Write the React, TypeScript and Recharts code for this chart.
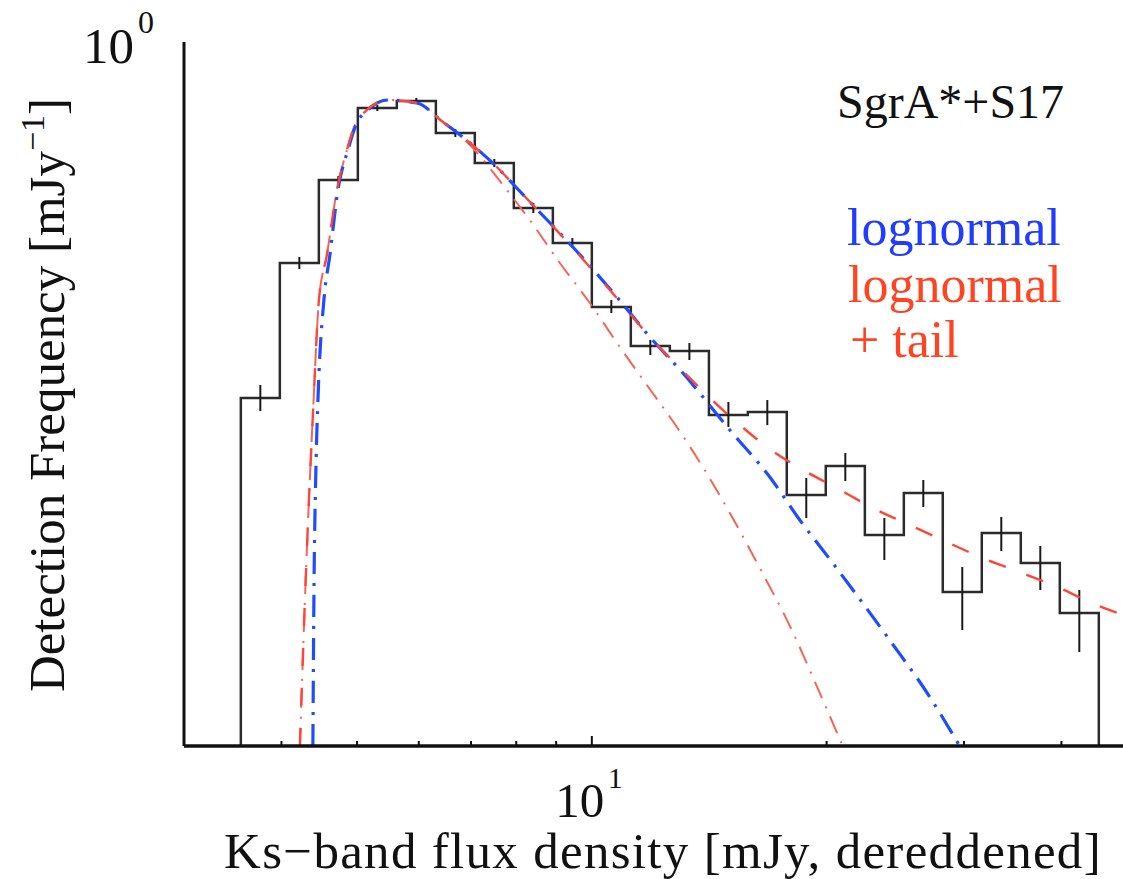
import React from "react";
import { ComposedChart, Line, XAxis, YAxis, ErrorBar } from "recharts";

const FONT = "'Liberation Serif', 'Times New Roman', serif";
const Y_MIN = 1e-4;

// 0.05 dex flux bins [mJy] and detection frequency per bin
const binEdges = [
  3.548, 3.981, 4.467, 5.012, 5.623, 6.31, 7.079, 7.943, 8.913, 10.0, 11.22, 12.59,
  14.13, 15.85, 17.78, 19.95, 22.39, 25.12, 28.18, 31.62, 35.48, 39.81, 44.67,
];
const freq = [
  0.00949, 0.0555, 0.1643, 0.4217, 0.4622, 0.3041, 0.2054, 0.114, 0.0721, 0.0312, 0.01874,
  0.01755, 0.0076, 0.0079, 0.002668, 0.003899, 0.001581, 0.002738, 0.00075, 0.001623,
  0.001096, 0.00057,
];
const freqLow = [
  0.008, 0.05128, 0.1559, 0.4055, 0.4444, 0.2885, 0.1949, 0.1067, 0.0675, 0.02884, 0.01666,
  0.0156, 0.0065, 0.00666, 0.001975, 0.003204, 0.00114, 0.00228, 0.000456, 0.001282,
  0.00077, 0.000342,
];
const freqHigh = [
  0.01126, 0.06004, 0.1732, 0.4386, 0.4807, 0.3205, 0.2165, 0.1218, 0.077, 0.03421, 0.02028,
  0.01948, 0.00901, 0.00924, 0.003332, 0.004624, 0.001975, 0.003247, 0.00104, 0.002001,
  0.001369, 0.00077,
];

// lognormal fit
const lognormX = [
  4.389, 4.402, 4.428, 4.455, 4.534, 4.615, 4.726, 4.867, 4.984, 5.164, 5.478, 5.967, 6.443,
  6.979, 7.553, 8.013, 8.4, 9.455, 10.766, 11.868, 13.083, 15.028, 16.91, 18.476, 20.363,
  24.09, 27.12, 29.62,
];
const lognormY = [
  1e-4, 6.75e-4, 0.0037, 0.00924, 0.0342, 0.0616, 0.1442, 0.2434, 0.3376, 0.4109, 0.4683,
  0.45, 0.3511, 0.2668, 0.1949, 0.1481, 0.1186, 0.0684, 0.0356, 0.02108, 0.01316, 0.00624,
  0.003377, 0.001924, 0.001096, 0.0004, 0.00019, 1e-4,
];

// lognormal + power-law tail fit
const tailX = [
  4.224, 4.287, 4.338, 4.389, 4.468, 4.574, 4.712, 4.853, 4.969, 5.149, 5.462, 5.967, 6.443,
  6.979, 7.553, 8.013, 9.455, 10.766, 11.868, 13.083, 14.167, 15.478, 16.91, 18.862, 20.605,
  22.916, 25.56, 28.51, 31.7, 35.35, 39.79, 44.38, 48.92,
];
const tailY = [
  1e-4, 6.75e-4, 0.002498, 0.0076, 0.0342, 0.0616, 0.1442, 0.2434, 0.3376, 0.4109, 0.4683,
  0.45, 0.3511, 0.2668, 0.1949, 0.1481, 0.0675, 0.0351, 0.02108, 0.01351, 0.00949, 0.00667,
  0.00487, 0.003604, 0.002923, 0.002251, 0.001802, 0.001442, 0.00117, 0.000974, 0.00079,
  0.000632, 0.000541,
];

// lognormal component of the tail fit
const compX = [
  4.224, 4.287, 4.338, 4.389, 4.468, 4.574, 4.712, 4.853, 4.969, 5.149, 5.462, 5.967, 6.443,
  6.979, 7.78, 8.326, 9.099, 9.941, 10.861, 11.763, 12.854, 13.877, 15.028, 16.418, 18.098,
  19.425, 20.973,
];
const compY = [
  1e-4, 6.75e-4, 0.002498, 0.0076, 0.0342, 0.0616, 0.1442, 0.2434, 0.3376, 0.4109, 0.4683,
  0.45, 0.3511, 0.26, 0.1442, 0.0974, 0.0555, 0.0329, 0.01849, 0.01125, 0.00649, 0.003847,
  0.002108, 0.001026, 0.000444, 0.000219, 1e-4,
];

const xTicks = [4, 5, 6, 7, 8, 9, 10, 20, 30, 40];

const nBins = freq.length;
const histStep = [
  { x: binEdges[0], y: Y_MIN },
  ...freq.map((f, i) => ({ x: binEdges[i], y: f })),
  { x: binEdges[nBins], y: freq[nBins - 1] },
  { x: binEdges[nBins], y: Y_MIN },
];
const histErr = freq.map((f, i) => ({
  x: Math.sqrt(binEdges[i] * binEdges[i + 1]),
  y: f,
  err: [f - freqLow[i], freqHigh[i] - f],
}));
const toPts = (xs: number[], ys: number[]) => xs.map((x, i) => ({ x, y: ys[i] }));
const lognormPts = toPts(lognormX, lognormY);
const tailPts = toPts(tailX, tailY);
const compPts = toPts(compX, compY);

const txt = (size: number, fill = "#111"): React.CSSProperties => ({
  fontFamily: FONT,
  fontSize: size,
  fill,
});

const BottomTick = (props: any) => {
  const { x, y, payload } = props;
  const major = payload.value === 10;
  return (
    <g>
      <line x1={x} x2={x} y1={y} y2={y - (major ? 10 : 5)} stroke="#111" strokeWidth={2} />
      {major && (
        <g>
          <text x={x - 12} y={y + 71} textAnchor="middle" style={txt(49)}>10</text>
          <text x={x + 16} y={y + 42} style={txt(30)}>1</text>
        </g>
      )}
    </g>
  );
};

const TopTick = (props: any) => {
  const { x, y, payload } = props;
  const major = payload.value === 10;
  return <line x1={x} x2={x} y1={y} y2={y + (major ? 10 : 5)} stroke="#111" strokeWidth={2} />;
};

const LeftTick = (props: any) => {
  const { x, y } = props;
  return (
    <g>
      <text x={x - 50} y={y + 21} textAnchor="end" style={txt(51)}>10</text>
      <text x={x - 46} y={y - 9} style={txt(32)}>0</text>
    </g>
  );
};

export default function App() {
  return (
    <div
      style={{
        position: "fixed",
        left: 0,
        top: 0,
        width: 1123,
        height: 879,
        overflow: "hidden",
        background: "#fff",
      }}
    >
      <ComposedChart
        width={1147}
        height={879}
        margin={{ top: 42, right: 10, bottom: 0, left: 0 }}
      >
        <XAxis
          xAxisId="b"
          dataKey="x"
          type="number"
          scale="log"
          domain={[3, 50]}
          allowDataOverflow
          ticks={xTicks}
          height={133}
          tickSize={0}
          tickMargin={0}
          tickLine={false}
          tick={<BottomTick />}
          axisLine={{ stroke: "#111", strokeWidth: 3.5 }}
        />
        <XAxis
          xAxisId="t"
          orientation="top"
          dataKey="x"
          type="number"
          scale="log"
          domain={[3, 50]}
          allowDataOverflow
          ticks={xTicks}
          height={0}
          tickSize={0}
          tickMargin={0}
          tickLine={false}
          tick={<TopTick />}
          axisLine={{ stroke: "#111", strokeWidth: 3 }}
        />
        <YAxis
          type="number"
          scale="log"
          domain={[Y_MIN, 1]}
          allowDataOverflow
          ticks={[1]}
          width={184}
          tickSize={0}
          tickMargin={0}
          tickLine={false}
          tick={<LeftTick />}
          axisLine={{ stroke: "#111", strokeWidth: 3 }}
        />

        <Line
          xAxisId="b"
          data={histStep}
          dataKey="y"
          type="stepAfter"
          stroke="#2b2b2b"
          strokeWidth={2.5}
          dot={false}
          activeDot={false}
          isAnimationActive={false}
        />
        <Line
          xAxisId="b"
          data={histErr}
          dataKey="y"
          stroke="none"
          dot={false}
          activeDot={false}
          isAnimationActive={false}
        >
          <ErrorBar dataKey="err" direction="y" width={0} stroke="#1a1a1a" strokeWidth={2} />
        </Line>
        <Line
          xAxisId="b"
          data={compPts}
          dataKey="y"
          type="monotone"
          stroke="#f26655"
          strokeWidth={2}
          strokeDasharray="18 9 2 9"
          dot={false}
          activeDot={false}
          isAnimationActive={false}
        />
        <Line
          xAxisId="b"
          data={lognormPts}
          dataKey="y"
          type="monotone"
          stroke="#1f4cff"
          strokeWidth={3.2}
          strokeDasharray="22 9 3 9"
          dot={false}
          activeDot={false}
          isAnimationActive={false}
        />
        <Line
          xAxisId="b"
          data={tailPts}
          dataKey="y"
          type="monotone"
          stroke="#ff4636"
          strokeWidth={2.4}
          strokeDasharray="18 22"
          dot={false}
          activeDot={false}
          isAnimationActive={false}
        />

        <text x={837} y={118} style={txt(48)}>SgrA*+S17</text>
        <text x={847} y={245} style={txt(52, "#1f3cff")}>lognormal</text>
        <text x={848} y={302} style={txt(52, "#ff4422")}>lognormal</text>
        <text x={850} y={357} style={txt(52, "#ff4422")}>+ tail</text>
        <text x={663} y={868} textAnchor="middle" style={{ ...txt(51), letterSpacing: 1.3 }}>
          Ks−band flux density [mJy, dereddened]
        </text>
        <text transform="translate(64 395) rotate(-90)" textAnchor="middle" style={txt(51)}>
          Detection Frequency [mJy
          <tspan style={{ fontSize: 34 }} dy={-20}>−1</tspan>
          <tspan dy={20}>]</tspan>
        </text>
      </ComposedChart>
    </div>
  );
}
